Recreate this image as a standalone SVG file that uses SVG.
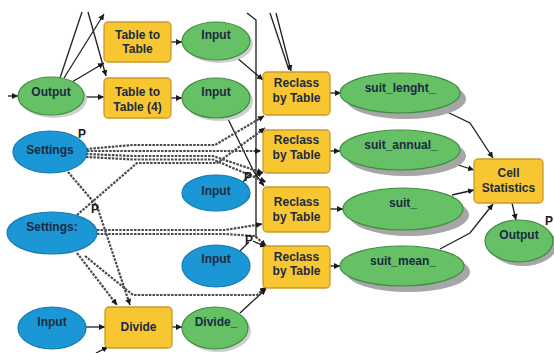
<svg xmlns="http://www.w3.org/2000/svg" width="554" height="353" viewBox="0 0 554 353">
<defs>
<marker id="arr" viewBox="0 0 6 6" refX="6" refY="3" markerWidth="6" markerHeight="6" markerUnits="userSpaceOnUse" orient="auto"><path d="M0,0 L6,3 L0,6 z" fill="#1a1a1a"/></marker>
<style>
.tool{fill:#f8c630;stroke:#c99a2a;stroke-width:1.3}
.data{fill:#66c066;stroke:#3f8c3f;stroke-width:1.2}
.inp{fill:#1b97d5;stroke:#167ab0;stroke-width:1.2}
.sh{fill:#a6a6a6}
.shl{fill:#cfcfcf}
.t{font-family:"Liberation Sans",Arial,sans-serif;font-weight:bold;font-size:12px;fill:#1b2b40;text-anchor:middle}
.p{font-family:"Liberation Sans",Arial,sans-serif;font-weight:bold;font-size:12px;fill:#1b1b1b}
.c{fill:none;stroke:#1e1e1e;stroke-width:1.3}
.d{fill:none;stroke:#4a4a4a;stroke-width:2.2;stroke-dasharray:2.5 1.2}
</style>
</defs>
<rect width="554" height="353" fill="#ffffff"/>

<g id="connectors">
<path class="c" d="M8,96 L18,96" marker-end="url(#arr)"/>
<path class="c" d="M84,97 L104,97" marker-end="url(#arr)"/>
<path class="c" d="M72,82 L104,63" marker-end="url(#arr)"/>
<path class="c" d="M60,78 L82,12"/>
<path class="c" d="M64,78 L104,14" marker-end="url(#arr)"/>
<path class="c" d="M88,12 L106,76" marker-end="url(#arr)"/>
<path class="c" d="M171,42 L182,42" marker-end="url(#arr)"/>
<path class="c" d="M171,98 L182,98" marker-end="url(#arr)"/>
<path class="c" d="M270,13 L289,70"/>
<path class="c" d="M276,13 L291,71" marker-end="url(#arr)"/>
<path class="c" d="M247,13 L256,20 L256,238"/>
<path class="c" d="M236,57 L256,74 L263,80" marker-end="url(#arr)"/>
<path class="c" d="M227,117 L254,172 L264,186" marker-end="url(#arr)"/>
<path class="c" d="M243,182 L250,174"/>
<path class="c" d="M253,177 L263,172" marker-end="url(#arr)"/>
<path class="c" d="M240,251 L249,242"/>
<path class="c" d="M253,241 L266,247" marker-end="url(#arr)"/>
<path class="c" d="M330,93 L341,93" marker-end="url(#arr)"/>
<path class="c" d="M330,151 L340,151" marker-end="url(#arr)"/>
<path class="c" d="M330,209 L343,209" marker-end="url(#arr)"/>
<path class="c" d="M330,266 L340,266" marker-end="url(#arr)"/>
<path class="c" d="M443,110 L470,123 L493,158" marker-end="url(#arr)"/>
<path class="c" d="M452,163 L474,170" marker-end="url(#arr)"/>
<path class="c" d="M452,195 L474,190" marker-end="url(#arr)"/>
<path class="c" d="M440,249 L470,233 L493,204" marker-end="url(#arr)"/>
<path class="c" d="M512,203 L516,220" marker-end="url(#arr)"/>
<path class="c" d="M86,327 L105,327" marker-end="url(#arr)"/>
<path class="c" d="M172,327 L182,327" marker-end="url(#arr)"/>
<path class="c" d="M240,313 L266,289" marker-end="url(#arr)"/>
<path class="c" d="M96,353 L108,347" marker-end="url(#arr)"/>

<path class="d" d="M86,149 L133,145 L215,145 L264,116" marker-end="url(#arr)"/>
<path class="d" d="M87,151 L261,151" marker-end="url(#arr)"/>
<path class="d" d="M86,154 L133,156 L213,156 L263,173" marker-end="url(#arr)"/>
<path class="d" d="M86,157 L133,159.5 L213,159.5 L266,182" marker-end="url(#arr)"/>
<path class="d" d="M77,215 L137,163 L217,163 L265,128" marker-end="url(#arr)"/>
<path class="d" d="M97,230 L225,230 L262,224" marker-end="url(#arr)"/>
<path class="d" d="M97,234 L225,234 L255,236 L266,246" marker-end="url(#arr)"/>
<path class="d" d="M68,172 L97,206 L130,305" marker-end="url(#arr)"/>
<path class="d" d="M77,253 L117,305" marker-end="url(#arr)"/>
<path class="d" d="M85,256 L133,295 L257,295 L266,287" marker-end="url(#arr)"/>
</g>

<g id="output-left">
<ellipse class="shl" cx="54" cy="99" rx="33" ry="19"/>
<ellipse class="data" cx="51" cy="96" rx="33" ry="19"/>
<text class="t" x="51" y="96">Output</text>
</g>
<g id="table-to-table">
<rect class="tool" x="104" y="22" width="67" height="40" rx="4"/>
<text class="t" x="137.5" y="39">Table to</text>
<text class="t" x="137.5" y="53">Table</text>
</g>
<g id="table-to-table-4">
<rect class="tool" x="104" y="78" width="67" height="40" rx="4"/>
<text class="t" x="137.5" y="96">Table to</text>
<text class="t" x="137.5" y="111">Table (4)</text>
</g>
<g id="input-green-1">
<ellipse class="shl" cx="219" cy="44" rx="34" ry="19"/>
<ellipse class="data" cx="216" cy="41" rx="34" ry="19"/>
<text class="t" x="216" y="39">Input</text>
</g>
<g id="input-green-2">
<ellipse class="shl" cx="219" cy="101" rx="34" ry="20"/>
<ellipse class="data" cx="216" cy="98" rx="34" ry="20"/>
<text class="t" x="216" y="96">Input</text>
</g>
<g id="settings-1">
<ellipse class="inp" cx="50" cy="152" rx="37" ry="21"/>
<text class="t" x="50" y="154">Settings</text>
<text class="p" x="78" y="138">P</text>
</g>
<g id="settings-2">
<ellipse class="inp" cx="52" cy="233" rx="45" ry="21"/>
<text class="t" x="52" y="231">Settings:</text>
<text class="p" x="91" y="213">P</text>
</g>
<g id="input-blue-1">
<ellipse class="inp" cx="216" cy="193" rx="34" ry="18"/>
<text class="t" x="216" y="195">Input</text>
<text class="p" x="244" y="181">P</text>
</g>
<g id="input-blue-2">
<ellipse class="inp" cx="216" cy="266" rx="34" ry="21"/>
<text class="t" x="216" y="263">Input</text>
<text class="p" x="245" y="244">P</text>
</g>
<g id="input-blue-3">
<ellipse class="inp" cx="52" cy="328" rx="34" ry="21"/>
<text class="t" x="52" y="326">Input</text>
</g>
<g id="divide">
<rect class="tool" x="105" y="307" width="67" height="41" rx="4"/>
<text class="t" x="138.5" y="331">Divide</text>
</g>
<g id="divide-out">
<ellipse class="shl" cx="218" cy="331" rx="33" ry="21"/>
<ellipse class="data" cx="215" cy="328" rx="33" ry="21"/>
<text class="t" x="216" y="326">Divide_</text>
</g>
<g id="reclass-1">
<rect class="tool" x="263" y="72" width="67" height="43" rx="4"/>
<text class="t" x="296.5" y="87">Reclass</text>
<text class="t" x="296.5" y="102">by Table</text>
</g>
<g id="reclass-2">
<rect class="tool" x="263" y="130" width="67" height="43" rx="4"/>
<text class="t" x="296.5" y="144">Reclass</text>
<text class="t" x="296.5" y="159">by Table</text>
</g>
<g id="reclass-3">
<rect class="tool" x="263" y="187" width="67" height="45" rx="4"/>
<text class="t" x="296.5" y="206">Reclass</text>
<text class="t" x="296.5" y="221">by Table</text>
</g>
<g id="reclass-4">
<rect class="tool" x="263" y="246" width="67" height="42" rx="4"/>
<text class="t" x="296.5" y="261">Reclass</text>
<text class="t" x="296.5" y="275">by Table</text>
</g>
<g id="suit-lenght">
<ellipse class="sh" cx="406" cy="99" rx="60" ry="20"/>
<ellipse class="data" cx="400" cy="93" rx="60" ry="20"/>
<text class="t" x="400" y="92">suit_lenght_</text>
</g>
<g id="suit-annual">
<ellipse class="sh" cx="406" cy="156" rx="60" ry="20"/>
<ellipse class="data" cx="400" cy="150" rx="60" ry="20"/>
<text class="t" x="401" y="149">suit_annual_</text>
</g>
<g id="suit">
<ellipse class="sh" cx="409" cy="215" rx="60" ry="21"/>
<ellipse class="data" cx="403" cy="209" rx="60" ry="21"/>
<text class="t" x="403" y="207">suit_</text>
</g>
<g id="suit-mean">
<ellipse class="sh" cx="408" cy="272" rx="62" ry="20"/>
<ellipse class="data" cx="402" cy="266" rx="62" ry="20"/>
<text class="t" x="403" y="265">suit_mean_</text>
</g>
<g id="cell-statistics">
<rect class="tool" x="474" y="159" width="69" height="44" rx="4"/>
<text class="t" x="508.5" y="177">Cell</text>
<text class="t" x="508.5" y="192">Statistics</text>
</g>
<g id="output-right">
<ellipse class="sh" cx="523" cy="245" rx="34" ry="21"/>
<ellipse class="data" cx="519" cy="241" rx="34" ry="21"/>
<text class="t" x="519" y="239">Output</text>
<text class="p" x="545" y="225">P</text>
</g>
</svg>
